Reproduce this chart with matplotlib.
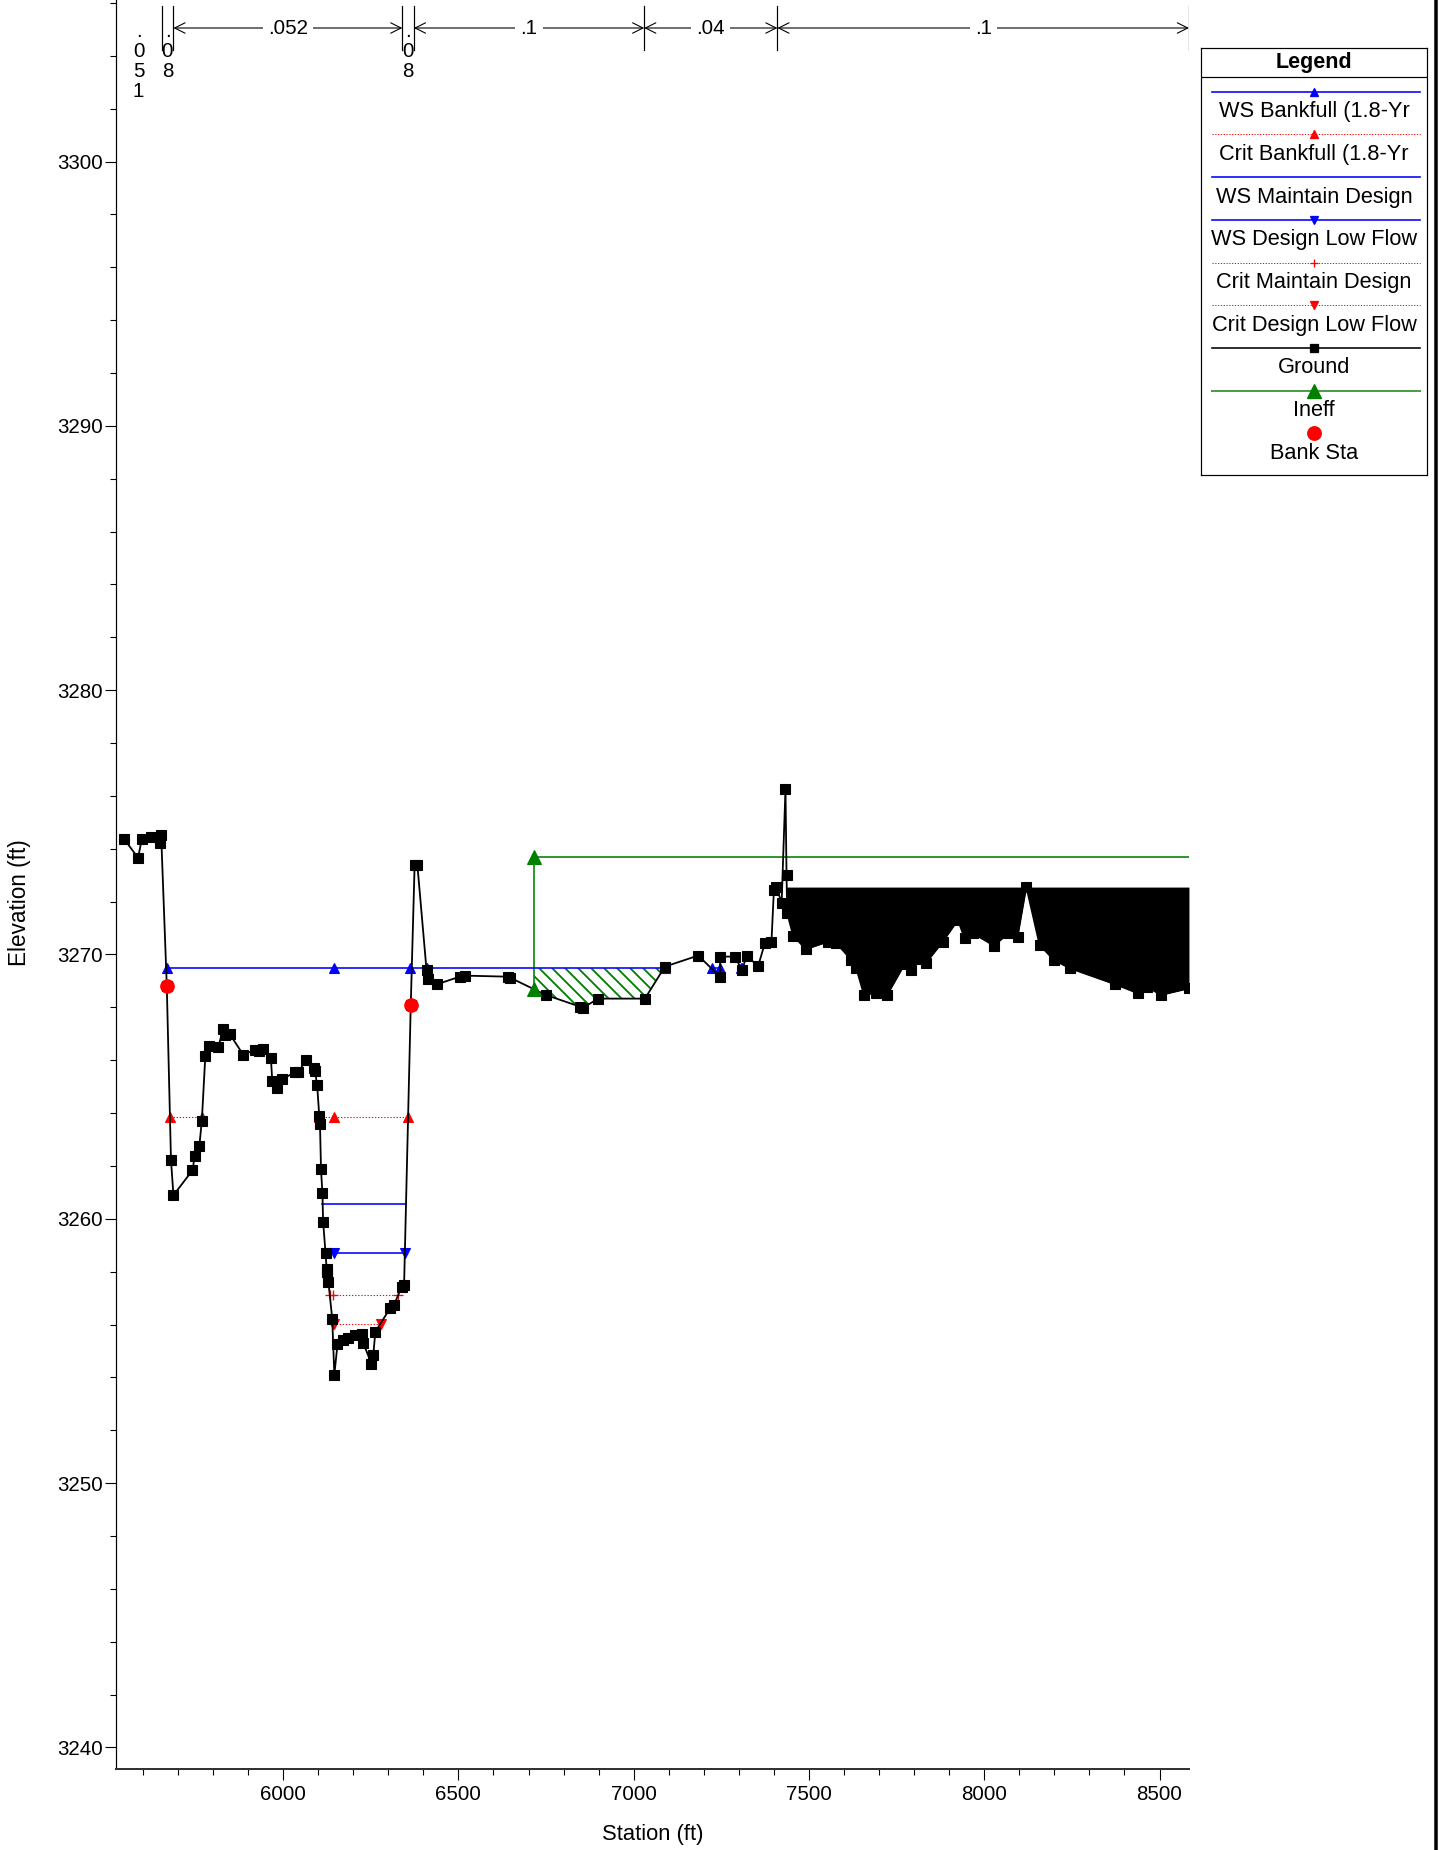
import numpy as np
import matplotlib
matplotlib.use("Agg")
import matplotlib.pyplot as plt
from matplotlib.lines import Line2D
from matplotlib.ticker import MultipleLocator
from matplotlib import transforms

plt.rcParams['font.family'] = ['Liberation Sans', 'DejaVu Sans']
plt.rcParams['hatch.linewidth'] = 1.7

# ---------------- data ----------------
ground_sta = [
    5546, 5586, 5597, 5624, 5649, 5652, 5668, 5680, 5687, 5741, 5748, 5761, 5768,
    5778, 5789, 5815, 5829, 5834, 5848, 5886, 5920, 5931, 5942, 5965, 5969, 5983,
    5996, 6034, 6043, 6065, 6088, 6091, 6097, 6103, 6105, 6108, 6112, 6114, 6121,
    6124, 6125, 6129, 6140, 6146, 6155, 6171, 6186, 6205, 6224, 6229, 6252, 6257,
    6263, 6305, 6316, 6338, 6345, 6364, 6375, 6383, 6409, 6413, 6438, 6504, 6518,
    6642, 6648, 6749, 6846, 6856, 6899, 7032, 7089, 7184, 7246, 7247, 7290, 7308,
    7323, 7355, 7374, 7393, 7400, 7407, 7422, 7433, 7436, 7438, 7455, 7491, 7555,
    7577, 7621, 7635, 7657, 7690, 7723, 7773, 7790, 7816, 7833, 7882, 7925, 7944,
    7968, 8028, 8068, 8095, 8120, 8158, 8199, 8244, 8372, 8439, 8463, 8505, 8584,
]
ground_elev = [
    3274.37, 3273.66, 3274.37, 3274.46, 3274.23, 3274.52, 3268.82, 3262.23, 3260.89,
    3261.83, 3262.37, 3262.77, 3263.71, 3266.17, 3266.55, 3266.51, 3267.18, 3266.95,
    3266.98, 3266.21, 3266.39, 3266.35, 3266.44, 3266.08, 3265.20, 3264.96, 3265.28,
    3265.54, 3265.54, 3266.00, 3265.72, 3265.58, 3265.05, 3263.89, 3263.60, 3261.87,
    3260.96, 3259.89, 3258.69, 3258.11, 3257.98, 3257.62, 3256.22, 3254.10, 3255.25,
    3255.40, 3255.49, 3255.59, 3255.64, 3255.29, 3254.51, 3254.83, 3255.73, 3256.61,
    3256.73, 3257.43, 3257.51, 3268.08, 3273.37, 3273.37, 3269.41, 3269.08, 3268.87,
    3269.16, 3269.20, 3269.16, 3269.12, 3268.47, 3268.03, 3267.99, 3268.33, 3268.33,
    3269.54, 3269.96, 3269.16, 3269.92, 3269.92, 3269.40, 3269.94, 3269.56, 3270.42,
    3270.48, 3272.44, 3272.57, 3271.94, 3276.27, 3273.00, 3271.56, 3270.71, 3270.20,
    3270.49, 3270.45, 3269.79, 3269.48, 3268.47, 3268.55, 3268.47, 3269.64, 3269.41,
    3269.82, 3269.67, 3270.49, 3271.31, 3270.61, 3270.80, 3270.33, 3270.80, 3270.67,
    3272.57, 3270.36, 3269.79, 3269.48, 3268.88, 3268.53, 3268.78, 3268.47, 3268.72,
]

bank_sta = [5668, 6364]
bank_elev = [3268.82, 3268.08]

nan = np.nan
ws_bankfull_elev = 3269.48
ws_bankfull_sta = [5668, 6146, 6363, 6409, 7089, nan, 7223, 7246, nan, 7305, 7310]
crit_bankfull_elev = 3263.86
crit_bankfull_sta = [5677, 5768, nan, 6103, 6146, 6357]
ws_maintain_elev = 3260.56
ws_maintain_sta = [6112, 6350]
ws_lowflow_elev = 3258.71
ws_lowflow_sta = [6121, 6145, 6347]
crit_maintain_elev = 3257.10
crit_maintain_sta = [6133, 6141, 6327]
crit_lowflow_elev = 3256.01
crit_lowflow_sta = [6141, 6146, 6278]

ineff_sta = 6716
ineff_elev = 3273.68
ineff_end_sta = 8584

obstruction_start = 7436
obstruction_elev = 3272.55

n_break_sta = [5653, 5687, 6340, 6373, 7030, 7410, 8584]
n_values = ['.051', '.08', '.052', '.08', '.1', '.04', '.1']

legend_labels = ['WS Bankfull (1.8-Yr', 'Crit Bankfull (1.8-Yr', 'WS Maintain Design',
                 'WS Design Low Flow', 'Crit Maintain Design', 'Crit Design Low Flow',
                 'Ground', 'Ineff', 'Bank Sta']

x_limits = (5522, 8585)
y_limits = (3239.20, 3306.11)

# ---------------- figure ----------------
DPI = 78
W, H = 1443, 1850
PT = 72.0 / DPI  # points per pixel
fig = plt.figure(figsize=(W / DPI, H / DPI), dpi=DPI)
fig.patch.set_facecolor('white')

ax = fig.add_axes([115.6 / W, 1 - 1768.6 / H, (1189.3 - 115.6) / W, 1768.6 / H])
ax.set_xlim(*x_limits)
ax.set_ylim(*y_limits)

gs = np.array(ground_sta, float)
ge = np.array(ground_elev, float)

BLUE = '#0000ff'
RED = '#ff0000'
GREEN = '#008000'
dotted = (0, (1.2, 1.6))

# obstruction block on the right overbank
m = gs >= obstruction_start
ax.fill_between(gs[m], np.minimum(ge[m], obstruction_elev), obstruction_elev,
                color='black', lw=0, zorder=2)

# ineffective flow area below the water surface
sel = (gs >= ineff_sta - 200) & (gs <= 7200)
xs = np.linspace(ineff_sta, 7100, 600)
gi = np.interp(xs, gs[sel], ge[sel])
ax.fill_between(xs, gi, ws_bankfull_elev, where=gi <= ws_bankfull_elev, interpolate=True,
                facecolor='none', edgecolor=GREEN, hatch='\\\\', lw=0, zorder=2)

ineff_ground = np.interp(ineff_sta, gs[sel], ge[sel])
ax.plot([ineff_sta, ineff_sta, ineff_end_sta], [ineff_ground, ineff_elev, ineff_elev],
        color=GREEN, lw=1.6 * PT, zorder=3)
ax.plot([ineff_sta, ineff_sta], [ineff_ground, ineff_elev], ls='none', marker='^',
        ms=14 * PT, color=GREEN, zorder=6)

# water surfaces
def level(sta, elev):
    sta = np.array(sta, float)
    return sta, np.where(np.isnan(sta), np.nan, elev)

x, y = level(ws_bankfull_sta, ws_bankfull_elev)
ax.plot(x, y, color=BLUE, lw=1.6 * PT, marker='^', ms=9.5 * PT, zorder=4)
x, y = level(crit_bankfull_sta, crit_bankfull_elev)
ax.plot(x, y, color=RED, lw=1.1 * PT, ls=dotted, marker='^', ms=9.5 * PT, zorder=4)
x, y = level(ws_maintain_sta, ws_maintain_elev)
ax.plot(x, y, color=BLUE, lw=1.6 * PT, zorder=4)
x, y = level(ws_lowflow_sta, ws_lowflow_elev)
ax.plot(x, y, color=BLUE, lw=1.6 * PT, marker='v', ms=9.5 * PT, zorder=4)
x, y = level(crit_maintain_sta, crit_maintain_elev)
ax.plot(x, y, color=RED, lw=1.1 * PT, ls=dotted, marker='+', ms=10 * PT, mew=1.3 * PT, zorder=4)
x, y = level(crit_lowflow_sta, crit_lowflow_elev)
ax.plot(x, y, color=RED, lw=1.1 * PT, ls=dotted, marker='v', ms=9.5 * PT, zorder=4)

# ground
ax.plot(gs, ge, color='black', lw=1.8 * PT, marker='s', ms=9.5 * PT, zorder=5)

# bank stations
ax.plot(bank_sta, bank_elev, ls='none', marker='o', ms=13.5 * PT, color=RED, zorder=7)

# Manning's n values along the top
trans = transforms.blended_transform_factory(ax.transData, ax.transAxes)
AX_H = 1768.6
fy = lambda px: 1 - px / AX_H
edges = [x_limits[0]] + n_break_sta
for i, val in enumerate(n_values):
    x0, x1 = edges[i], edges[i + 1]
    xc = 0.5 * (x0 + x1)
    if x1 - x0 < 160:
        for k, ch in enumerate(val):
            ax.annotate(ch, xy=(xc, fy(37)), xycoords=trans, xytext=(0, -k * 20 * PT),
                        textcoords='offset points', ha='center', va='baseline',
                        fontsize=20.5 * PT, zorder=8)
    else:
        ax.annotate('', xy=(x1, fy(28)), xytext=(x0, fy(28)), xycoords=trans, textcoords=trans,
                    arrowprops=dict(arrowstyle='<->,head_length=0.6,head_width=0.3',
                                    mutation_scale=16, lw=1.1 * PT, color='black',
                                    shrinkA=0, shrinkB=0), zorder=8)
        ax.text(xc, fy(28), val, transform=trans, ha='center', va='center',
                fontsize=20.5 * PT, zorder=9,
                bbox=dict(boxstyle='square,pad=0.25', fc='white', ec='none'))
for xb in n_break_sta:
    ax.plot([xb, xb], [fy(6), fy(50)], transform=trans, color='black', lw=1.2 * PT, zorder=8)

# axes styling
for s in ('top', 'right'):
    ax.spines[s].set_visible(False)
ax.spines['left'].set_linewidth(1.2 * PT)
ax.spines['bottom'].set_linewidth(2.0 * PT)
ax.spines['bottom'].set_color('#333333')
ax.set_xticks(np.arange(6000, 8501, 500))
ax.xaxis.set_minor_locator(MultipleLocator(100))
ax.set_yticks(np.arange(3240, 3301, 10))
ax.yaxis.set_minor_locator(MultipleLocator(2))
ax.tick_params(axis='both', which='major', direction='out', length=10.5 * PT,
               width=1.1 * PT, labelsize=20.5 * PT)
ax.tick_params(axis='both', which='minor', direction='out', length=6 * PT, width=1.1 * PT)
ax.tick_params(axis='y', which='major', pad=2.5 * PT)
ax.tick_params(axis='x', which='major', pad=6 * PT)

fig.text(652.5 / W, 1 - 1834.7 / H, 'Station (ft)', ha='center', va='center', fontsize=22 * PT)
fig.text(19.5 / W, 1 - 902.6 / H, 'Elevation (ft)', ha='center', va='center',
         rotation=90, fontsize=22.5 * PT)

# legend box
LX0, LY0, LW, LH = 1201, 48.4, 226, 427
lax = fig.add_axes([LX0 / W, 1 - (LY0 + LH) / H, LW / W, LH / H])
lax.set_xlim(0, LW)
lax.set_ylim(LH, 0)
lax.set_xticks([])
lax.set_yticks([])
for s in lax.spines.values():
    s.set_linewidth(1.2 * PT)
lax.text(LW / 2, 14, 'Legend', ha='center', va='center', fontsize=21.5 * PT, fontweight='bold')
lax.plot([0, LW], [28.6, 28.6], color='black', lw=1.2 * PT)

legend_styles = [
    dict(color=BLUE, ls='-', lw=1.6, marker='^', ms=8.5),
    dict(color=RED, ls=dotted, lw=1.0, marker='^', ms=8.5),
    dict(color=BLUE, ls='-', lw=1.6, marker=None, ms=0),
    dict(color=BLUE, ls='-', lw=1.6, marker='v', ms=8.5),
    dict(color=RED, ls=dotted, lw=1.0, marker='+', ms=8.5),
    dict(color=RED, ls=dotted, lw=1.0, marker='v', ms=8.5),
    dict(color='black', ls='-', lw=1.6, marker='s', ms=8.5),
    dict(color=GREEN, ls='-', lw=2.0, marker='^', ms=14),
    dict(color=RED, ls='none', lw=0, marker='o', ms=13.5),
]
for k, (lab, st) in enumerate(zip(legend_labels, legend_styles)):
    yl = 43.3 + k * 42.7
    if st['ls'] != 'none':
        lc = '#4c9e4c' if st['color'] == GREEN else st['color']
        lax.plot([11, 219], [yl, yl], color=lc, ls=st['ls'], lw=st['lw'] * PT)
    if st['marker']:
        lax.plot([LW / 2], [yl], ls='none', marker=st['marker'], ms=st['ms'] * PT,
                 color=st['color'], mew=1.3 * PT)
    lax.text(LW / 2, yl + 20, lab, ha='center', va='center', fontsize=21.8 * PT)

# right frame edge
fig.add_artist(Line2D([1435.5 / W, 1435.5 / W], [0, 1], transform=fig.transFigure,
                      color='black', lw=3.5 * PT))

fig.savefig('out.png', dpi=DPI, facecolor='white')
